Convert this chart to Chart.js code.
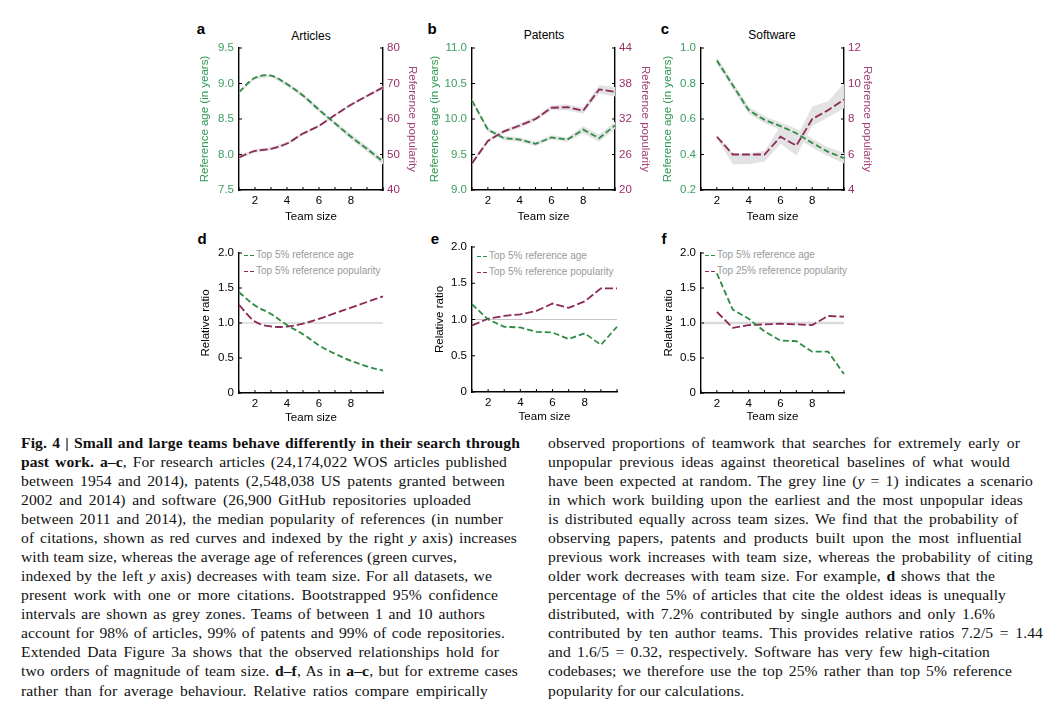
<!DOCTYPE html>
<html>
<head>
<meta charset="utf-8">
<script src="https://cdn.jsdelivr.net/npm/chart.js@4.4.0/dist/chart.umd.min.js"></script>
<style>
  body { margin: 0; background: #fff; width: 1062px; height: 712px; position: relative; overflow: hidden;
         font-family: "Liberation Sans", Arial, sans-serif; }
  canvas { position: absolute; }
  .c { position: absolute; transform: translate(-50%, -50%); white-space: nowrap; color: #000; }
  .letter { font-weight: bold; font-size: 15px; }
  .ttl { font-size: 12px; }
  .leg { position: absolute; font-size: 10px; color: #9a9a9a; line-height: 16px; white-space: nowrap; }
  .leg i { display: inline-block; width: 4px; height: 1.6px; margin-right: 2px; vertical-align: middle; }
  .leg span { display: inline-block; width: 12px; }
  .cap { position: absolute; top: 432.5px; font-family: "Liberation Serif", "Times New Roman", serif;
         font-size: 15.6px; line-height: 19.08px; color: #111; letter-spacing: 0.1px; }
  .cap div { text-align: justify; text-align-last: justify; height: 19.08px; white-space: nowrap; }
  .cap div.end { text-align: left; text-align-last: left; }
</style>
</head>
<body>

<div class="c letter" style="left:201px;top:28px">a</div>
<div class="c letter" style="left:432px;top:28px">b</div>
<div class="c letter" style="left:665px;top:28px">c</div>
<div class="c letter" style="left:202px;top:238px">d</div>
<div class="c letter" style="left:435px;top:238px">e</div>
<div class="c letter" style="left:664px;top:238px">f</div>

<div class="c ttl" style="left:311px;top:36px">Articles</div>
<div class="c ttl" style="left:544px;top:35px">Patents</div>
<div class="c ttl" style="left:772px;top:35px">Software</div>

<div class="leg" style="left:244px;top:247px">
  <span><i style="background:#2e8b46"></i><i style="background:#2e8b46"></i></span>Top 5% reference age<br>
  <span><i style="background:#8c2a57"></i><i style="background:#8c2a57"></i></span>Top 5% reference popularity
</div>
<div class="leg" style="left:477px;top:248px">
  <span><i style="background:#2e8b46"></i><i style="background:#2e8b46"></i></span>Top 5% reference age<br>
  <span><i style="background:#8c2a57"></i><i style="background:#8c2a57"></i></span>Top 5% reference popularity
</div>
<div class="leg" style="left:705px;top:247px">
  <span><i style="background:#2e8b46"></i><i style="background:#2e8b46"></i></span>Top 5% reference age<br>
  <span><i style="background:#8c2a57"></i><i style="background:#8c2a57"></i></span>Top 25% reference popularity
</div>

<canvas id="pa" width="240" height="210" style="left:190px;top:20px;width:240px;height:210px"></canvas>
<canvas id="pb" width="243" height="210" style="left:420px;top:20px;width:243px;height:210px"></canvas>
<canvas id="pc" width="232" height="210" style="left:653px;top:20px;width:232px;height:210px"></canvas>
<canvas id="pd" width="200" height="200" style="left:190px;top:232px;width:200px;height:200px"></canvas>
<canvas id="pe" width="200" height="200" style="left:425px;top:232px;width:200px;height:200px"></canvas>
<canvas id="pf" width="200" height="200" style="left:654px;top:232px;width:200px;height:200px"></canvas>

<div class="cap" style="left:21px">
<div style="width:499px;letter-spacing:0.1px"><b>Fig. 4 | Small and large teams behave differently in their search through</b></div>
<div style="width:486px"><b>past work. a–c</b>, For research articles (24,174,022 WOS articles published</div>
<div style="width:484px">between 1954 and 2014), patents (2,548,038 US patents granted between</div>
<div style="width:450px">2002 and 2014) and software (26,900 GitHub repositories uploaded</div>
<div style="width:482px">between 2011 and 2014), the median popularity of references (in number</div>
<div style="width:496px">of citations, shown as red curves and indexed by the right <i>y</i> axis) increases</div>
<div style="width:436px">with team size, whereas the average age of references (green curves,</div>
<div style="width:471px">indexed by the left <i>y</i> axis) decreases with team size. For all datasets, we</div>
<div style="width:477px">present work with one or more citations. Bootstrapped 95% confidence</div>
<div style="width:464px">intervals are shown as grey zones. Teams of between 1 and 10 authors</div>
<div style="width:484px">account for 98% of articles, 99% of patents and 99% of code repositories.</div>
<div style="width:478px">Extended Data Figure 3a shows that the observed relationships hold for</div>
<div style="width:497px">two orders of magnitude of team size. <b>d–f</b>, As in <b>a–c</b>, but for extreme cases</div>
<div style="width:467px">rather than for average behaviour. Relative ratios compare empirically</div>
</div>
<div class="cap" style="left:548px">
<div style="width:472px">observed proportions of teamwork that searches for extremely early or</div>
<div style="width:462px">unpopular previous ideas against theoretical baselines of what would</div>
<div style="width:485px">have been expected at random. The grey line (<i>y</i> = 1) indicates a scenario</div>
<div style="width:475px">in which work building upon the earliest and the most unpopular ideas</div>
<div style="width:470px">is distributed equally across team sizes. We find that the probability of</div>
<div style="width:474px">observing papers, patents and products built upon the most influential</div>
<div style="width:485px">previous work increases with team size, whereas the probability of citing</div>
<div style="width:447px">older work decreases with team size. For example, <b>d</b> shows that the</div>
<div style="width:458px">percentage of the 5% of articles that cite the oldest ideas is unequally</div>
<div style="width:447px">distributed, with 7.2% contributed by single authors and only 1.6%</div>
<div style="width:495px">contributed by ten author teams. This provides relative ratios 7.2/5 = 1.44</div>
<div style="width:442px">and 1.6/5 = 0.32, respectively. Software has very few high-citation</div>
<div style="width:464px">codebases; we therefore use the top 25% rather than top 5% reference</div>
<div class="end" style="width:212px">popularity for our calculations.</div>
</div>

<script>
// team size on the x axis
const teamSize = [1, 2, 3, 4, 5, 6, 7, 8, 9, 10];

// a - articles
const ageA   = [8.88, 9.08, 9.11, 8.99, 8.83, 8.63, 8.44, 8.25, 8.08, 7.90];
const ageAHi = [8.90, 9.10, 9.13, 9.02, 8.86, 8.66, 8.47, 8.29, 8.12, 7.94];
const ageALo = [8.86, 9.06, 9.09, 8.96, 8.80, 8.60, 8.41, 8.21, 8.04, 7.86];
const popA   = [49.2, 51.0, 51.6, 53.1, 55.9, 58.1, 61.1, 64.0, 66.5, 68.9];
const popAHi = [49.6, 51.5, 52.1, 53.6, 56.3, 58.5, 61.5, 64.4, 66.9, 69.4];
const popALo = [48.8, 50.5, 51.1, 52.6, 55.5, 57.7, 60.7, 63.6, 66.1, 68.4];

// b - patents
const ageB   = [10.26, 9.85, 9.73, 9.71, 9.65, 9.74, 9.71, 9.85, 9.73, 9.91];
const ageBHi = [10.29, 9.88, 9.76, 9.74, 9.68, 9.77, 9.74, 9.90, 9.78, 9.96];
const ageBLo = [10.23, 9.82, 9.70, 9.68, 9.62, 9.71, 9.68, 9.80, 9.68, 9.86];
const popB   = [24.5, 28.3, 29.9, 30.9, 32.0, 33.9, 34.0, 33.4, 37.0, 36.6];
const popBHi = [24.8, 28.6, 30.2, 31.3, 32.4, 34.3, 34.5, 33.9, 37.7, 37.4];
const popBLo = [24.2, 28.0, 29.6, 30.5, 31.6, 33.5, 33.5, 32.9, 36.3, 35.8];

// c - software (no single-author point)
const ageC   = [null, 0.93, 0.79, 0.65, 0.595, 0.56, 0.52, 0.465, 0.415, 0.38];
const ageCHi = [null, 0.95, 0.81, 0.67, 0.615, 0.58, 0.545, 0.49, 0.44, 0.41];
const ageCLo = [null, 0.91, 0.77, 0.63, 0.575, 0.54, 0.495, 0.44, 0.39, 0.35];
const popC   = [null, 7.0, 6.0, 6.0, 6.0, 7.0, 6.5, 8.0, 8.5, 9.1];
const popCHi = [null, 7.1, 6.05, 6.05, 6.2, 7.6, 6.9, 8.7, 9.0, 10.0];
const popCLo = [null, 6.9, 5.45, 5.45, 5.6, 6.6, 5.95, 7.6, 8.1, 8.6];

// d-f - relative ratios
const ageD = [1.44, 1.25, 1.13, 0.97, 0.84, 0.68, 0.56, 0.46, 0.38, 0.32];
const popD = [1.26, 1.02, 0.95, 0.95, 0.99, 1.06, 1.14, 1.22, 1.30, 1.38];
const ageE = [1.21, 1.00, 0.90, 0.89, 0.83, 0.82, 0.73, 0.81, 0.65, 0.90];
const popE = [0.92, 1.01, 1.05, 1.07, 1.12, 1.22, 1.16, 1.25, 1.43, 1.43];
const ageF = [null, 1.71, 1.19, 1.06, 0.88, 0.75, 0.74, 0.59, 0.59, 0.27];
const popF = [null, 1.16, 0.93, 0.97, 0.98, 0.99, 0.98, 0.97, 1.10, 1.09];
const baseline = [1, 1, 1, 1, 1, 1, 1, 1, 1, 1];

const GREEN = '#2e8b46', RED = '#8c2a57', BAND = '#e3e3e3';
const FONT = 'Liberation Sans';

// small tick marks pointing into the plot
const innerTicks = {
  id: 'innerTicks',
  afterDraw(chart) {
    const ctx = chart.ctx, a = chart.chartArea;
    ctx.save();
    ctx.strokeStyle = '#000';
    ctx.lineWidth = 1;
    Object.values(chart.scales).forEach(s => {
      s.ticks.forEach((t, i) => {
        const p = s.getPixelForTick(i);
        ctx.beginPath();
        if (s.axis === 'x') { ctx.moveTo(p, a.bottom); ctx.lineTo(p, a.bottom - 3); }
        else if (s.position === 'left') { ctx.moveTo(a.left, p); ctx.lineTo(a.left + 3, p); }
        else { ctx.moveTo(a.right, p); ctx.lineTo(a.right - 3, p); }
        ctx.stroke();
      });
    });
    ctx.restore();
  }
};

function line(data, color, dash, axis, tension) {
  return { data, borderColor: color, borderWidth: 1.8, borderDash: dash, pointRadius: 0,
           fill: false, tension: tension || 0, yAxisID: axis };
}
function band(data, axis, fill) {
  return { data, borderWidth: 0, pointRadius: 0, backgroundColor: BAND, fill, yAxisID: axis };
}

function xScale(h, titlePad) {
  return {
    type: 'category',
    offset: false,
    grid: { display: false, drawTicks: false },
    border: { display: true, color: '#000', width: 1.6 },
    ticks: {
      autoSkip: false, maxRotation: 0, padding: 4, color: '#000', font: { family: FONT, size: 11.5 },
      callback: (v, i) => (teamSize[i] % 2 === 0 && teamSize[i] < 10) ? String(teamSize[i]) : ''
    },
    title: { display: true, text: 'Team size', color: '#000', font: { family: FONT, size: 11.5 },
             padding: { top: 0, bottom: titlePad } },
    afterFit: s => { s.height = h; }
  };
}

function yScale(pos, w, min, max, step, digits, title, color, titleColor, titlePad) {
  return {
    position: pos, min, max,
    grid: { display: false, drawTicks: false },
    border: { display: true, color: '#000', width: 1.4 },
    ticks: { stepSize: step, padding: pos === 'left' ? 5 : 4, color, font: { family: FONT, size: 11.5 },
             callback: v => (v === 0 ? '0' : Number(v).toFixed(digits)) },
    title: { display: true, text: title, color: titleColor, font: { family: FONT, size: 11.5 },
             padding: { top: titlePad, bottom: 0 } },
    afterFit: s => { s.width = w; }
  };
}

function make(id, datasets, scales, padding) {
  new Chart(document.getElementById(id), {
    type: 'line',
    data: { labels: teamSize, datasets },
    options: {
      responsive: false, animation: false, events: [],
      layout: { padding },
      plugins: { legend: { display: false }, tooltip: { enabled: false } },
      scales
    },
    plugins: [innerTicks]
  });
}

const AGE_T = 'Reference age (in years)', POP_T = 'Reference popularity';
const LG = '#3c9e5e', LGT = '#2f9a52', RP = '#9a2f6a', RPT = '#a2427a';

// top row
make('pa', [
  line(ageA, GREEN, [6, 3], 'y', 0.35), line(popA, RED, [8, 3], 'y2', 0.35),
  band(ageAHi, 'y', false), band(ageALo, 'y', '-1'),
  band(popAHi, 'y2', false), band(popALo, 'y2', '-1')
], {
  x: xScale(40, 6),
  y: yScale('left', 49, 7.5, 9.5, 0.5, 1, AGE_T, LG, LGT, 8),
  y2: yScale('right', 47, 40, 80, 10, 0, POP_T, RP, RPT, 11)
}, { top: 28, right: 0, bottom: 0, left: 0 });

make('pb', [
  line(ageB, GREEN, [6, 3], 'y'), line(popB, RED, [8, 3], 'y2'),
  band(ageBHi, 'y', false), band(ageBLo, 'y', '-1'),
  band(popBHi, 'y2', false), band(popBLo, 'y2', '-1')
], {
  x: xScale(40, 6),
  y: yScale('left', 52, 9, 11, 0.5, 1, AGE_T, LG, LGT, 8),
  y2: yScale('right', 48, 20, 44, 6, 0, POP_T, RP, RPT, 11)
}, { top: 28, right: 0, bottom: 0, left: 0 });

make('pc', [
  line(ageC, GREEN, [6, 3], 'y'), line(popC, RED, [8, 3], 'y2'),
  band(ageCHi, 'y', false), band(ageCLo, 'y', '-1'),
  band(popCHi, 'y2', false), band(popCLo, 'y2', '-1')
], {
  x: xScale(40, 6),
  y: yScale('left', 48, 0.2, 1.0, 0.2, 1, AGE_T, LG, LGT, 8),
  y2: yScale('right', 41, 4, 12, 2, 0, POP_T, RP, RPT, 11)
}, { top: 28, right: 0, bottom: 0, left: 0 });

// bottom row
function ratioSet(age, pop, tension, baseColor, baseWidth) {
  return [
    line(age, GREEN, [6, 3], 'y', tension), line(pop, RED, [8, 3], 'y', tension),
    { data: baseline, borderColor: baseColor, borderWidth: baseWidth, pointRadius: 0, fill: false, yAxisID: 'y' }
  ];
}

make('pd', ratioSet(ageD, popD, 0.35, '#c4c4c4', 1.2), {
  x: xScale(39, 7),
  y: yScale('left', 49, 0, 2, 0.5, 1, 'Relative ratio', '#000', '#000', 9)
}, { top: 21, right: 7, bottom: 0, left: 0 });

make('pe', ratioSet(ageE, popE, 0, '#c4c4c4', 1.2), {
  x: xScale(40, 8),
  y: yScale('left', 47, 0, 2, 0.5, 1, 'Relative ratio', '#000', '#000', 8)
}, { top: 15, right: 8, bottom: 0, left: 0 });

make('pf', ratioSet(ageF, popF, 0, '#dadada', 2.5), {
  x: xScale(39, 8),
  y: yScale('left', 47, 0, 2, 0.5, 1, 'Relative ratio', '#000', '#000', 8)
}, { top: 21, right: 10, bottom: 0, left: 0 });
</script>
</body>
</html>
